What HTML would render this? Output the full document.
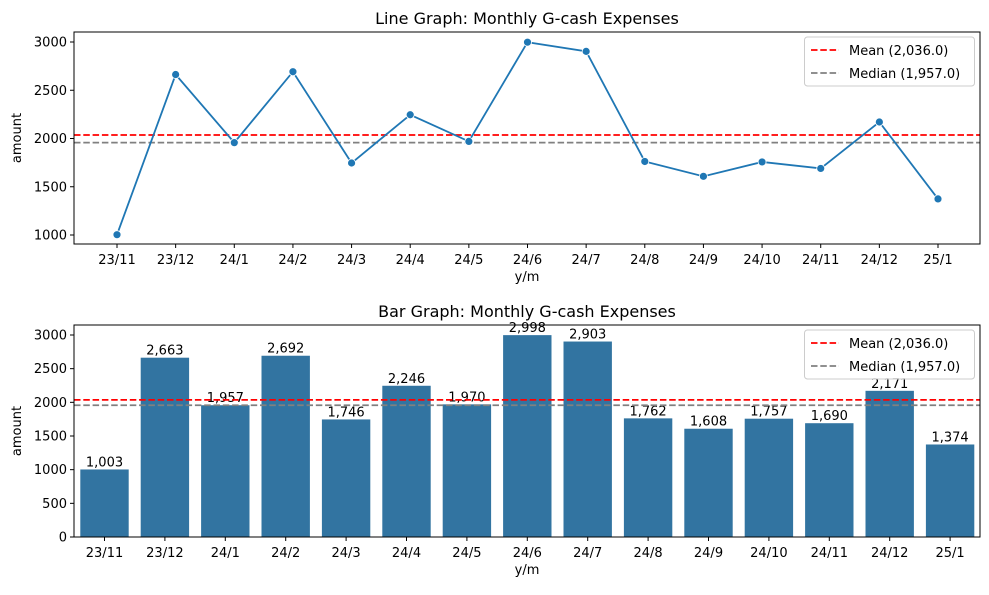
<!DOCTYPE html>
<html><head><meta charset="utf-8"><style>
body{margin:0;background:#fff;font-family:"Liberation Sans","DejaVu Sans",sans-serif;}
svg text{font-family:"DejaVu Sans","Liberation Sans",sans-serif;}
</style></head><body>
<svg id="c" width="989" height="590" xmlns="http://www.w3.org/2000/svg"></svg>
<script>
const categories=["23/11","23/12","24/1","24/2","24/3","24/4","24/5","24/6","24/7","24/8","24/9","24/10","24/11","24/12","25/1"];
const amounts=[1003,2663,1957,2692,1746,2246,1970,2998,2903,1762,1608,1757,1690,2171,1374];
const meanValue=2036.0;
const medianValue=1957.0;
const lineTicks=[1000,1500,2000,2500,3000];
const barTicks=[0,500,1000,1500,2000,2500,3000];
const NS="http://www.w3.org/2000/svg";
const svg=document.getElementById('c');
function el(t,a,p){const e=document.createElementNS(NS,t);for(const k in a)e.setAttribute(k,a[k]);(p||svg).appendChild(e);return e;}
function txt(s,a,p){const e=el('text',a,p);e.textContent=s;return e;}
const fmt=v=>v.toLocaleString('en-US');
const L=74,R=980;
function panel(top,bot,title,yFn,xFn,ticks,name){
  const g=el('g',{});
  
  
  const t=txt(title,{x:527,y:top-8,'text-anchor':'middle','font-size':16},g);
  
  
  ticks.forEach(v=>{const y=yFn(v);
    el('line',{x1:L-4,x2:L,y1:y,y2:y,stroke:'#000'},g);
    const tl=txt(String(v),{x:L-7,y:y+4.5,'text-anchor':'end','font-size':13},g);
    
    });
  categories.forEach((c,i)=>{const x=xFn(i);
    el('line',{x1:x,x2:x,y1:bot,y2:bot+4,stroke:'#000'},g);
    const tl=txt(c,{x:x,y:bot+20,'text-anchor':'middle','font-size':13},g);
    
    });
  const xt=txt('y/m',{x:527,y:bot+37,'text-anchor':'middle','font-size':13},g);
  
  
  const yt=txt('amount',{x:0,y:0,'text-anchor':'middle','font-size':13,transform:`translate(21,${(top+bot)/2}) rotate(-90)`},g);
  
  
  return g;
}
function refLines(g,yFn){
  const m=el('line',{x1:L,x2:R,y1:yFn(meanValue),y2:yFn(meanValue),stroke:'#ff0000','stroke-width':1.8,'stroke-dasharray':'6.5,2.8'},g);
  
  
  const d=el('line',{x1:L,x2:R,y1:yFn(medianValue),y2:yFn(medianValue),stroke:'#808080','stroke-width':1.8,'stroke-dasharray':'6.5,2.8'},g);
  
  
}
function legend(top){
  const g=el('g',{});
  
  
  el('rect',{x:804.5,y:top,width:170,height:49,rx:3,fill:'#fff','fill-opacity':0.8,stroke:'#ccc'},g);
  el('line',{x1:811,x2:839,y1:top+13,y2:top+13,stroke:'#ff0000','stroke-width':1.8,'stroke-dasharray':'6.5,2.8'},g);
  const a=txt(`Mean (${meanValue.toLocaleString('en-US',{minimumFractionDigits:1})})`,{x:849,y:top+18,'font-size':13},g);
  
  
  el('line',{x1:811,x2:839,y1:top+36,y2:top+36,stroke:'#808080','stroke-width':1.8,'stroke-dasharray':'6.5,2.8'},g);
  const b=txt(`Median (${medianValue.toLocaleString('en-US',{minimumFractionDigits:1})})`,{x:849,y:top+41,'font-size':13},g);
  
  
}
const yL=v=>235-(v-1000)*(193/2000);
const xL=i=>117+i*(821/14);
const g1=panel(32,244,'Line Graph: Monthly G-cash Expenses',yL,xL,lineTicks,'line-chart');
refLines(g1,yL);
const path=el('polyline',{points:amounts.map((v,i)=>xL(i)+','+yL(v)).join(' '),fill:'none',stroke:'#1f77b4','stroke-width':1.8},g1);


amounts.forEach((v,i)=>{const p=el('circle',{cx:xL(i),cy:yL(v),r:4,fill:'#1f77b4',stroke:'#fff','stroke-width':0.8},g1);
  
  });
el('rect',{x:L,y:32,width:R-L,height:212,fill:'none',stroke:'#000','stroke-width':1},g1);
legend(37);
const yB=v=>537-v*(202/3000);
const xB=i=>104.5+i*60.4;
const g2=panel(325,537,'Bar Graph: Monthly G-cash Expenses',yB,xB,barTicks,'bar-chart');
amounts.forEach((v,i)=>{const b=el('rect',{x:xB(i)-24.2,y:yB(v),width:48.4,height:537-yB(v),fill:'#3274a1'},g2);
  
  
  const l=txt(fmt(v),{x:xB(i),y:yB(v)-3,'text-anchor':'middle','font-size':13},g2);
  
  });
refLines(g2,yB);
el('rect',{x:L,y:325,width:R-L,height:212,fill:'none',stroke:'#000','stroke-width':1},g2);
legend(330);
</script>
</body></html>
